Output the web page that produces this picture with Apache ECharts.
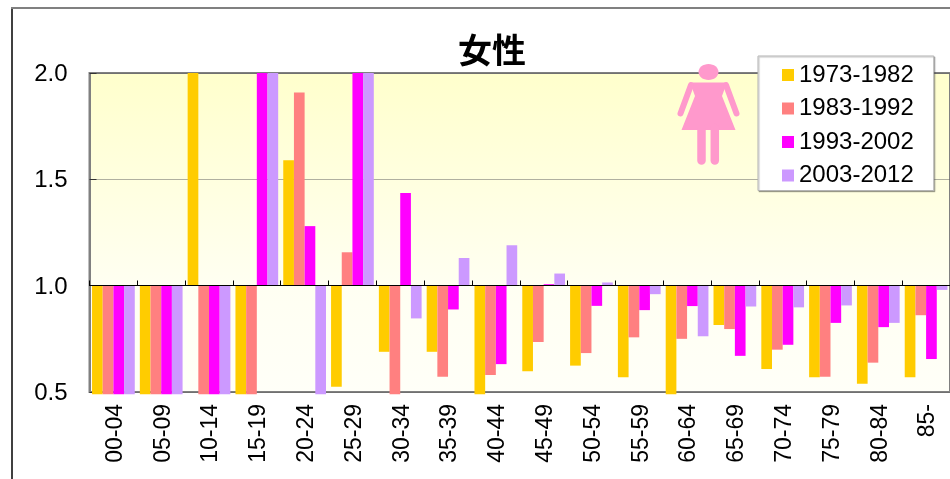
<!DOCTYPE html>
<html>
<head>
<meta charset="utf-8">
<style>html,body{margin:0;padding:0;background:#fff}#c{width:950px;height:479px}</style>
<script src="https://cdn.jsdelivr.net/npm/echarts@6/dist/echarts.min.js"></script>
</head>
<body>
<div id="c"></div>
<script>
const categories = ['00-04','05-09','10-14','15-19','20-24','25-29','30-34','35-39','40-44','45-49','50-54','55-59','60-64','65-69','70-74','75-79','80-84','85-'];
const yTicks = {min:0.5, max:2.0, interval:0.5};
// 2.0 and 0.49 are bars running off the plot range
const s1973 = [0.49,0.49,2.0,0.49,1.59,0.525,0.689,0.689,0.49,0.597,0.624,0.569,0.49,0.815,0.608,0.569,0.539,0.569];
const s1983 = [0.49,0.49,0.49,0.49,1.908,1.157,0.49,0.572,0.58,0.735,0.683,0.757,0.75,0.796,0.699,0.572,0.638,0.861];
const s1993 = [0.49,0.49,0.49,2.0,1.28,2.0,1.436,0.888,0.631,1.007,0.905,0.885,0.904,0.67,0.722,0.825,0.805,0.655];
const s2003 = [0.49,0.49,0.49,2.0,0.49,2.0,0.846,1.13,1.19,1.057,1.015,0.96,0.762,0.902,0.898,0.907,0.825,0.98];
const seriesNames = ['1973-1982','1983-1992','1993-2002','2003-2012'];
const seriesValues = [s1973,s1983,s1993,s2003];
const colors = ['#FFCC00','#FF8080','#FF00FF','#CC99FF'];
const baseline = 1.0;
const barRatio = 0.2235;
const font = '"Liberation Sans", Arial, sans-serif';

const chart = echarts.init(document.getElementById('c'), null, {renderer:'canvas'});

function makeSeries(name, values, color, idx){
  return {
    name, type:'custom', xAxisIndex:0, yAxisIndex:0, clip:false,
    itemStyle:{color},
    encode:{x:0,y:1},
    data: values.map((v,i)=>[i,v]),
    renderItem(params, api){
      const cat = api.value(0), val = api.value(1);
      const top = api.coord([cat, val]);
      const base = api.coord([cat, baseline]);
      const w = api.size([1,0])[0]*barRatio;
      const x = top[0] + (idx-2)*w;
      return {type:'rect',
        shape:{x, y:Math.min(top[1],base[1]), width:w, height:Math.abs(top[1]-base[1])},
        style:{fill:color}};
    }
  };
}

const pink = '#FF99CC';
const iconLine = (x1,y1,x2,y2,w)=>({type:'line',z:20,shape:{x1,y1,x2,y2},style:{stroke:pink,lineWidth:w,lineCap:'round'}});

chart.setOption({
  animation:false,
  backgroundColor:'#fff',
  title:{text:'女性',left:487,top:28,textAlign:'center',
    textStyle:{fontFamily:'"Noto Sans CJK JP"',fontWeight:'bold',fontSize:34,color:'#000'}},
  grid:{left:89.5,top:73,width:863.5,height:319,show:true,borderColor:'#808080',borderWidth:2,
    backgroundColor:new echarts.graphic.LinearGradient(0,0,0,1,[
      {offset:0,color:'#FFFFCC'},{offset:0.67,color:'#FFFFF2'},{offset:1,color:'#FFFFF8'}])},
  legend:{orient:'vertical',left:758,top:56,width:175,
    data:seriesNames,icon:'rect',itemWidth:12,itemHeight:12,itemGap:9.5,
    padding:[7,20,3,24],backgroundColor:'#fff',borderColor:'#b4b4b4',borderWidth:1,
    shadowColor:'rgba(0,0,0,0.25)',shadowBlur:1,shadowOffsetX:1,shadowOffsetY:1,
    textStyle:{fontFamily:font,fontSize:24,color:'#000'},z:10},
  xAxis:[
    {type:'category',data:categories,position:'bottom',offset:-106.5,z:5,
     axisLine:{show:true,onZero:false,lineStyle:{color:'#000',width:1}},
     axisTick:{show:true,inside:true,length:5,lineStyle:{color:'#000',width:1}},
     axisLabel:{show:false},splitLine:{show:false}},
    {type:'category',data:categories,position:'bottom',
     axisLine:{show:false,onZero:false},axisTick:{show:false},
     axisLabel:{show:true,interval:0,rotate:90,margin:12,verticalAlign:'top',padding:[-9.5,0,0,0],color:'#000',fontFamily:font,fontSize:23},
     splitLine:{show:false}}
  ],
  yAxis:{type:'value',min:yTicks.min,max:yTicks.max,interval:yTicks.interval,
    axisLine:{show:true,lineStyle:{color:'#808080',width:2}},
    axisTick:{show:true,inside:true,length:7,lineStyle:{color:'#333',width:1}},
    axisLabel:{color:'#000',fontFamily:font,fontSize:24,margin:22,verticalAlign:'top',padding:[-10.5,0,0,0],formatter:v=>v.toFixed(1)},
    splitLine:{show:true,lineStyle:{color:'#606060',width:1,type:'dotted'}}},
  series:seriesValues.map((v,i)=>makeSeries(seriesNames[i],v,colors[i],i)),
  graphic:{elements:[
    {type:'line',z:1,shape:{x1:12,y1:8,x2:12,y2:479},style:{stroke:'#000',lineWidth:1.5}},
    {type:'line',z:1,shape:{x1:11,y1:8,x2:950,y2:8},style:{stroke:'#808080',lineWidth:2}},
    {type:'ellipse',z:20,shape:{cx:708.5,cy:72,rx:10,ry:8},style:{fill:pink}},
    {type:'polygon',z:20,shape:{points:[[690,82.5],[727,82.5],[722,96],[735.5,130],[681.5,130],[695,96]]},style:{fill:pink}},
    iconLine(691,85,680.5,113.5,6),
    iconLine(726,85,736.5,113.5,6),
    iconLine(701.5,128,701.5,160.5,8.5),
    iconLine(714.8,128,714.8,160.5,8.5)
  ]}
});
</script>
</body>
</html>
